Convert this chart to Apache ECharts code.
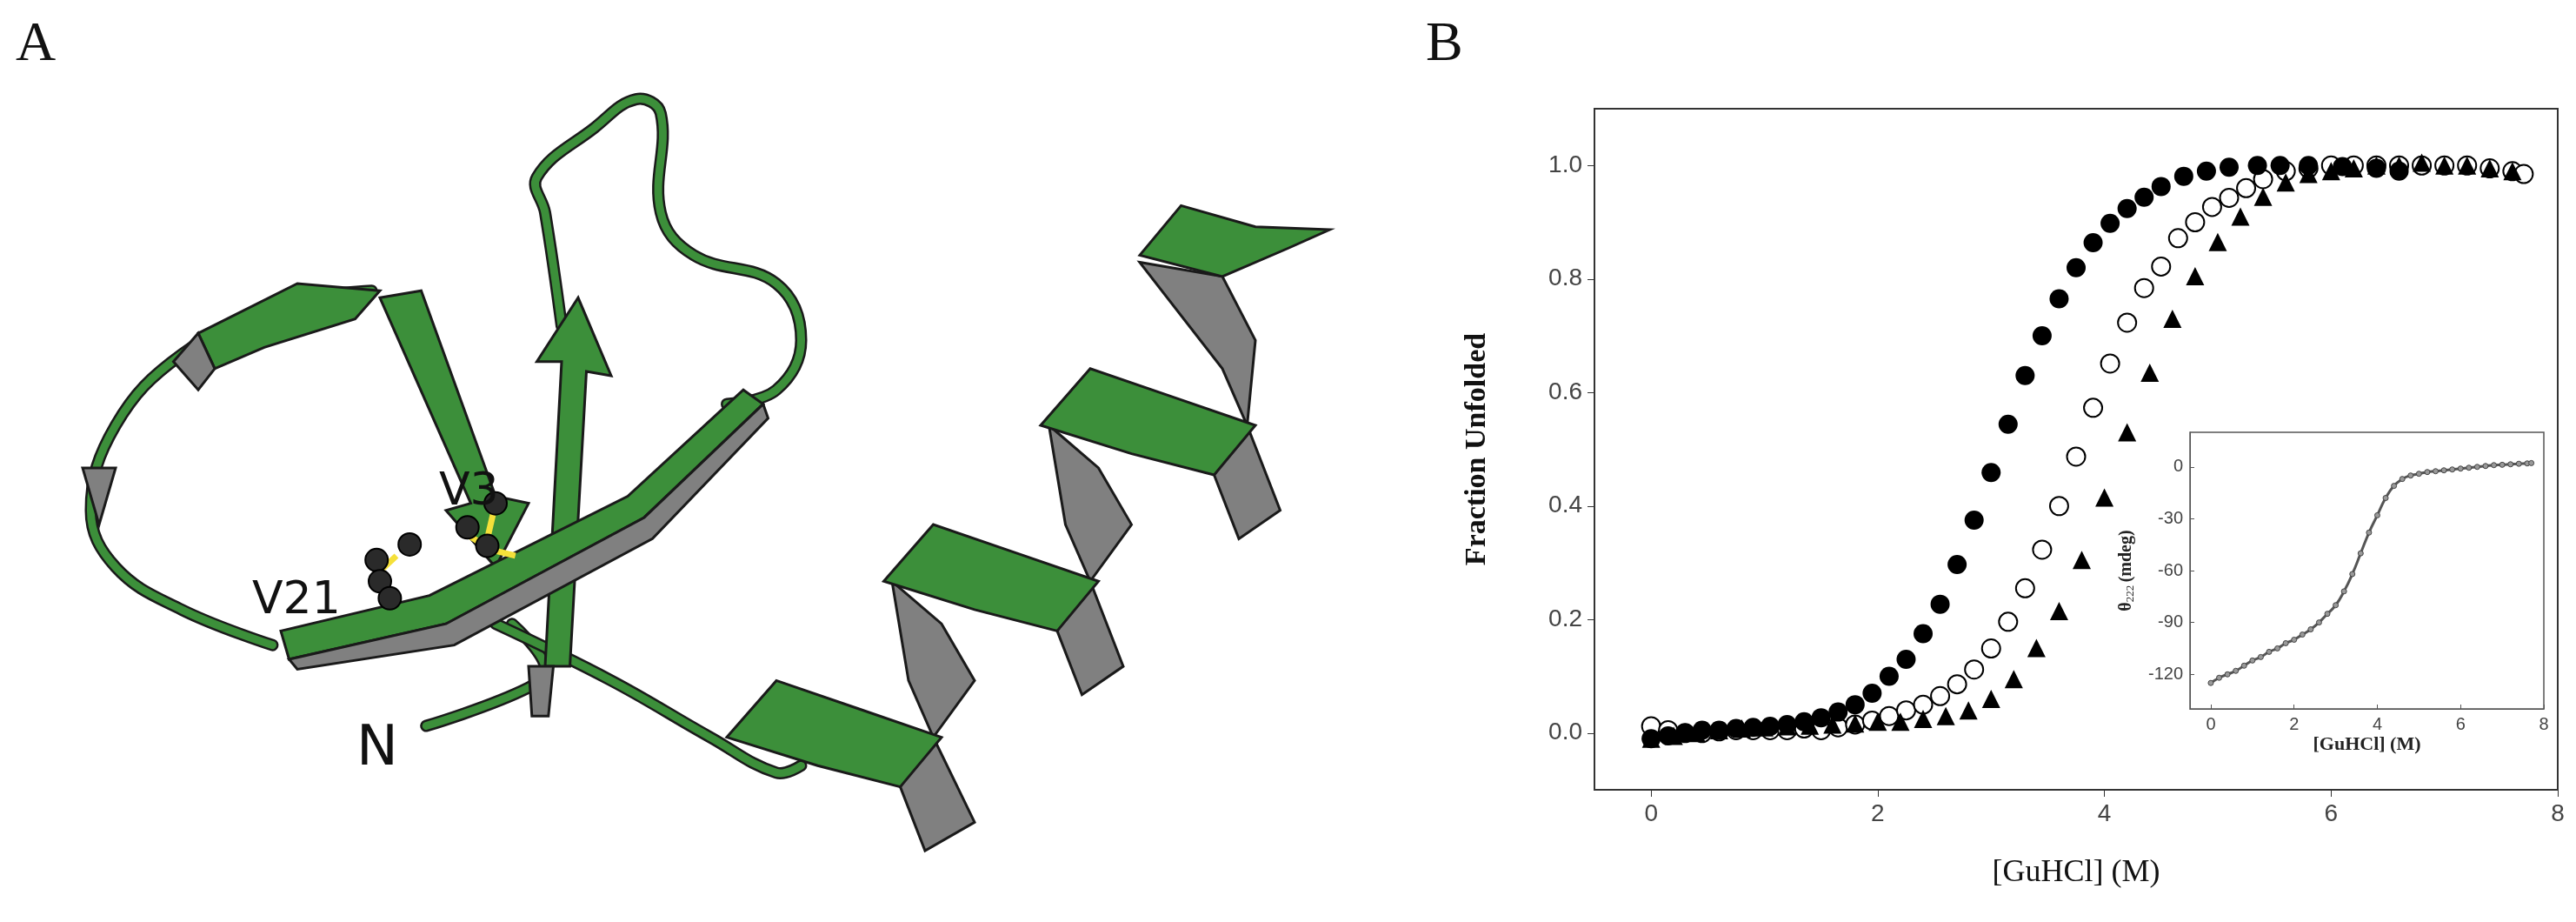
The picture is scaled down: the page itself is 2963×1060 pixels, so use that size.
<!DOCTYPE html>
<html>
<head>
<meta charset="utf-8">
<script src="https://cdn.jsdelivr.net/npm/echarts@6/dist/echarts.min.js"></script>
<style>html,body{margin:0;padding:0;background:#fff}#main{width:2963px;height:1060px}</style>
</head>
<body>
<div id="main"></div>
<script>
// main panel: fraction unfolded vs [GuHCl]
var filledX = [0,0.15,0.3,0.45,0.6,0.75,0.9,1.05,1.2,1.35,1.5,1.65,1.8,1.95,2.1,2.25,2.4,2.55,2.7,2.85,3.0,3.15,3.3,3.45,3.6,3.75,3.9,4.05,4.2,4.35,4.5,4.7,4.9,5.1,5.35,5.55,5.8,6.1,6.4,6.6];
var filledY = [-0.01,-0.005,0.0,0.005,0.005,0.008,0.01,0.012,0.015,0.02,0.027,0.037,0.05,0.07,0.10,0.13,0.175,0.227,0.297,0.375,0.459,0.544,0.63,0.70,0.765,0.82,0.864,0.898,0.924,0.944,0.963,0.981,0.99,0.997,1.0,1.0,1.0,0.998,0.995,0.99];
var openX = [0,0.15,0.3,0.45,0.6,0.75,0.9,1.05,1.2,1.35,1.5,1.65,1.8,1.95,2.1,2.25,2.4,2.55,2.7,2.85,3.0,3.15,3.3,3.45,3.6,3.75,3.9,4.05,4.2,4.35,4.5,4.65,4.8,4.95,5.1,5.25,5.4,5.6,5.8,6.0,6.2,6.4,6.6,6.8,7.0,7.2,7.4,7.6,7.7];
var openY = [0.012,0.005,0.0,0.0,0.003,0.005,0.005,0.005,0.005,0.008,0.005,0.01,0.015,0.022,0.03,0.04,0.05,0.065,0.086,0.112,0.149,0.196,0.255,0.323,0.40,0.487,0.573,0.651,0.723,0.784,0.822,0.872,0.90,0.927,0.943,0.96,0.976,0.99,0.995,1.0,1.0,1.0,1.0,1.0,1.0,1.0,0.995,0.99,0.985];
var triX = [0,0.2,0.4,0.6,0.8,1.0,1.2,1.4,1.6,1.8,2.0,2.2,2.4,2.6,2.8,3.0,3.2,3.4,3.6,3.8,4.0,4.2,4.4,4.6,4.8,5.0,5.2,5.4,5.6,5.8,6.0,6.2,6.4,6.6,6.8,7.0,7.2,7.4,7.6];
var triY = [-0.01,-0.005,0.0,0.005,0.008,0.01,0.012,0.013,0.015,0.017,0.02,0.02,0.025,0.03,0.04,0.06,0.095,0.15,0.215,0.305,0.415,0.53,0.635,0.73,0.805,0.865,0.91,0.945,0.97,0.985,0.99,0.995,1.0,1.0,1.005,1.0,1.0,0.995,0.99];
// inset: ellipticity at 222 nm
var insetX = [0,0.2,0.4,0.6,0.8,1.0,1.2,1.4,1.6,1.8,2.0,2.2,2.4,2.6,2.8,3.0,3.2,3.4,3.6,3.8,4.0,4.2,4.4,4.6,4.8,5.0,5.2,5.4,5.6,5.8,6.0,6.2,6.4,6.6,6.8,7.0,7.2,7.4,7.6,7.7];
var insetY = [-125,-122,-120,-118,-115,-112,-110,-107,-105,-102,-100,-97,-94,-90,-85,-80,-72,-62,-50,-38,-28,-18,-11,-7,-5,-4,-3,-2.5,-2,-1.5,-1,-0.5,0,0.5,1,1.2,1.5,1.8,2,2.2];
var mainTicks = [0, 2, 4, 6, 8];

function pairs(xs, ys) { return xs.map(function (x, i) { return [x, ys[i]]; }); }

// panel A cartoon, drawn as decoration (display coords scaled to page)
var SX = 1.9, SY = 1.63;
function P(list) { return list.map(function (p) { return [p[0] * SX, p[1] * SY]; }); }
function loop(pts) {
  return [
    { type: 'polyline', shape: { points: P(pts), smooth: 0.4 }, style: { stroke: '#1a1a1a', lineWidth: 14, fill: null, lineCap: 'round', lineJoin: 'round' } },
    { type: 'polyline', shape: { points: P(pts), smooth: 0.4 }, style: { stroke: '#3c8f3a', lineWidth: 9, fill: null, lineCap: 'round', lineJoin: 'round' } }
  ];
}
function poly(pts, fill) {
  return { type: 'polygon', shape: { points: P(pts) }, style: { fill: fill, stroke: '#1a1a1a', lineWidth: 3 } };
}
var art = [];
art = art.concat(loop([[258,512],[320,485],[330,470],[310,440]]));
art = art.concat(loop([[300,440],[370,480],[430,520],[470,545],[485,540]]));
art = art.concat(loop([[165,455],[110,430],[70,400],[55,360],[70,300],[110,250],[170,215],[225,205]]));
art = art.concat(loop([[340,230],[330,150],[325,125],[360,90],[385,70],[400,80],[400,150],[420,180],[470,200],[485,240],[470,275],[440,285]]));
art.push(poly([[120,235],[180,200],[230,205],[215,225],[160,245],[130,260]], '#3c8f3a'));
art.push(poly([[120,235],[130,260],[120,275],[105,255]], '#808080'));
art.push(poly([[50,330],[60,370],[70,330]], '#808080'));
art.push(poly([[230,210],[255,205],[300,350],[320,355],[300,400],[270,360],[285,355]], '#3c8f3a'));
art.push(poly([[330,470],[340,255],[325,255],[350,210],[370,265],[355,262],[345,470]], '#3c8f3a'));
art.push(poly([[170,445],[260,420],[380,350],[450,275],[462,285],[390,365],[270,440],[175,465]], '#3c8f3a'));
art.push(poly([[175,465],[270,440],[390,365],[462,285],[465,295],[395,380],[275,455],[180,472]], '#808080'));
art.push(poly([[320,470],[335,470],[332,505],[322,505]], '#808080'));
var helixG = [[[440,520],[470,480],[520,500],[570,520],[545,555],[495,540]],
  [[535,410],[565,370],[615,390],[665,410],[640,445],[590,430]],
  [[630,300],[660,260],[710,280],[760,300],[735,335],[685,320]],
  [[690,180],[715,145],[760,160],[805,162],[780,175],[740,195]]];
var helixK = [[[565,520],[545,555],[560,600],[590,580]], [[660,410],[640,445],[655,490],[680,470]], [[755,300],[735,335],[750,380],[775,360]],
  [[540,410],[570,440],[590,480],[565,520],[550,480]], [[635,300],[665,330],[685,370],[660,410],[645,370]], [[690,185],[740,195],[760,240],[755,300],[740,260]]];
helixK.forEach(function (p) { art.push(poly(p, '#808080')); });
helixG.forEach(function (p) { art.push(poly(p, '#3c8f3a')); });
[[240,392,228,405],[228,405,235,420],[300,355,295,380],[280,375,298,388],[298,388,312,392]].forEach(function (s) {
  art.push({ type: 'line', shape: { x1: s[0] * SX, y1: s[1] * SY, x2: s[2] * SX, y2: s[3] * SY }, style: { stroke: '#f5e03a', lineWidth: 7 } });
});
[[248,384],[228,395],[230,410],[236,422],[300,355],[283,372],[295,385]].forEach(function (c) {
  art.push({ type: 'circle', shape: { cx: c[0] * SX, cy: c[1] * SY, r: 13 }, style: { fill: '#2a2a2a', stroke: '#000', lineWidth: 2 } });
});
var txt = function (x, y, s, size) {
  return { type: 'text', x: x, y: y, style: { text: s, font: size + 'px "Liberation Serif"', fill: '#111' } };
};
art.push(txt(18, 20, 'A', 64));
art.push(txt(1640, 20, 'B', 64));
art.push({ type: 'text', x: 410, y: 830, style: { text: 'N', font: '64px "DejaVu Sans"', fill: '#111' } });
art.push({ type: 'text', x: 290, y: 665, style: { text: 'V21', font: '52px "DejaVu Sans"', fill: '#111' } });
art.push({ type: 'text', x: 505, y: 540, style: { text: 'V3', font: '52px "DejaVu Sans"', fill: '#111' } });

var chart = echarts.init(document.getElementById('main'));
var tickFont = { fontFamily: 'Liberation Sans', fontSize: 28, color: '#444' };
var option = {
  animation: false,
  backgroundColor: '#fff',
  graphic: art,
  grid: [
    { left: 1834, top: 125, width: 1108, height: 783, show: true, borderColor: '#333', borderWidth: 2, backgroundColor: 'transparent' },
    { left: 2519, top: 497, width: 407, height: 318, show: true, borderColor: '#555', borderWidth: 1.5, backgroundColor: '#fff', z: 5 }
  ],
  xAxis: [
    { gridIndex: 0, type: 'value', min: -0.5, max: 8, interval: 2, splitLine: { show: false },
      axisLine: { onZero: false, lineStyle: { color: '#333', width: 2 } }, axisTick: { inside: false, length: 8, lineStyle: { color: '#333' }, customValues: mainTicks },
      axisLabel: Object.assign({ margin: 14, customValues: mainTicks }, tickFont),
      name: '[GuHCl] (M)', nameLocation: 'middle', nameGap: 78, nameTextStyle: { fontFamily: 'Liberation Serif', fontSize: 36, color: '#111' } },
    { gridIndex: 1, type: 'value', min: -0.5, max: 8, interval: 2, splitLine: { show: false }, z: 6,
      axisLine: { onZero: false, lineStyle: { color: '#555' } }, axisTick: { inside: true, length: 5, customValues: mainTicks },
      axisLabel: { customValues: mainTicks, fontFamily: 'Liberation Sans', fontSize: 20, color: '#444', margin: 8 },
      name: '[GuHCl] (M)', nameLocation: 'middle', nameGap: 30, nameTextStyle: { fontFamily: 'Liberation Serif', fontSize: 22, fontWeight: 'bold', color: '#222' } }
  ],
  yAxis: [
    { gridIndex: 0, type: 'value', min: -0.1, max: 1.1, splitLine: { show: false },
      axisLine: { onZero: false, lineStyle: { color: '#333', width: 2 } }, axisTick: { length: 8, lineStyle: { color: '#333' }, customValues: [0, 0.2, 0.4, 0.6, 0.8, 1.0] },
      axisLabel: Object.assign({ margin: 14, customValues: [0, 0.2, 0.4, 0.6, 0.8, 1.0], formatter: function (v) { return v.toFixed(1); } }, tickFont),
      name: 'Fraction Unfolded', nameLocation: 'middle', nameGap: 118, nameTextStyle: { fontFamily: 'Liberation Serif', fontSize: 34, fontWeight: 'bold', color: '#111' } },
    { gridIndex: 1, type: 'value', min: -140, max: 20, splitLine: { show: false }, z: 6,
      axisLine: { onZero: false, lineStyle: { color: '#555' } }, axisTick: { inside: true, length: 5, customValues: [-120, -90, -60, -30, 0] },
      axisLabel: { customValues: [-120, -90, -60, -30, 0], fontFamily: 'Liberation Sans', fontSize: 20, color: '#444', margin: 8 },
      name: '{t|θ}{s|222} {t|(mdeg)}', nameLocation: 'middle', nameGap: 62,
      nameTextStyle: { color: '#222', rich: { t: { fontFamily: 'Liberation Serif', fontSize: 20, fontWeight: 'bold' }, s: { fontFamily: 'Liberation Serif', fontSize: 13, verticalAlign: 'bottom', padding: [10, 0, 0, 0] } } } }
  ],
  series: [
    { type: 'scatter', xAxisIndex: 0, yAxisIndex: 0, data: pairs(openX, openY), symbol: 'circle', symbolSize: 21,
      itemStyle: { color: '#fff', borderColor: '#000', borderWidth: 2, opacity: 1 } },
    { type: 'scatter', xAxisIndex: 0, yAxisIndex: 0, data: pairs(triX, triY), symbol: 'triangle', symbolSize: 21,
      itemStyle: { color: '#000', opacity: 1 } },
    { type: 'scatter', xAxisIndex: 0, yAxisIndex: 0, data: pairs(filledX, filledY), symbol: 'circle', symbolSize: 22,
      itemStyle: { color: '#000', opacity: 1 } },
    { type: 'line', xAxisIndex: 1, yAxisIndex: 1, data: pairs(insetX, insetY), smooth: true, z: 7, symbol: 'circle', symbolSize: 6,
      lineStyle: { color: '#555', width: 3 }, itemStyle: { color: '#999', borderColor: '#444', borderWidth: 1 } }
  ]
};
chart.setOption(option);
</script>
</body>
</html>
